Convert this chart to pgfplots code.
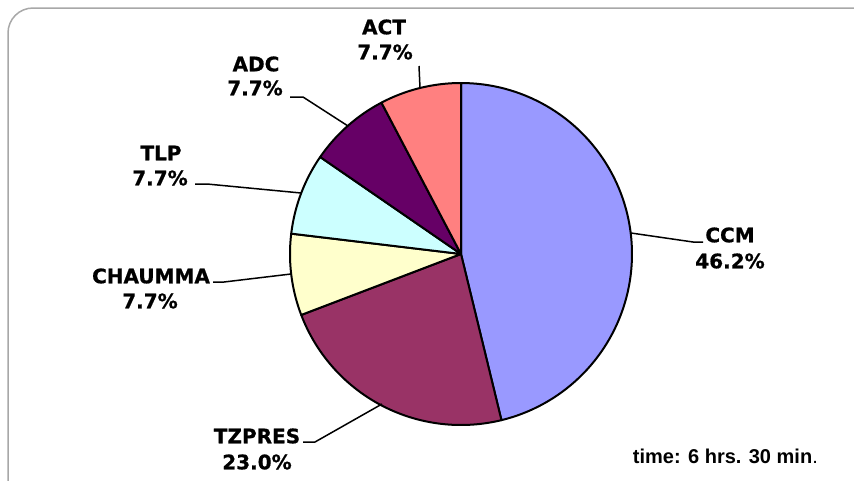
\documentclass[border=0pt]{standalone}
\usepackage{fontspec}
\setmainfont{DejaVu Sans}
\newfontfamily\labfont{DejaVu Sans Bold}[FakeBold=0.8]
\newfontfamily\timefont{Liberation Sans}
\usepackage{pgfplots}
\pgfplotsset{compat=1.18}

\definecolor{cCCM}{HTML}{9999FF}
\definecolor{cTZPRES}{HTML}{993366}
\definecolor{cCHAUMMA}{HTML}{FFFFCC}
\definecolor{cTLP}{HTML}{CCFFFF}
\definecolor{cADC}{HTML}{660066}
\definecolor{cACT}{HTML}{FF8080}
\definecolor{frame}{HTML}{A8A8A8}

% pie centre and radius, in picture pixels (y runs downwards)
\newcommand{\pcx}{461}
\newcommand{\pcy}{254}
\newcommand{\pr}{171}
% slice from cumulative percent #2 to #3
\newcommand{\slice}[3]{%
  \addplot[fill=#1, draw=black, line width=2pt, line join=round,
    domain={#2*3.6}:{#3*3.6}, samples=90, variable=\t]
    ({\pcx+\pr*sin(\t)},{\pcy-\pr*cos(\t)}) -- (axis cs:\pcx,\pcy) -- cycle;}
\newcommand{\lab}{\labfont\fontsize{20}{24}\selectfont}

\begin{document}
\begin{tikzpicture}
\begin{axis}[
    at={(0,0)}, anchor=south west,
    scale only axis, width=854pt, height=480pt,
    xmin=0, xmax=854, ymin=0, ymax=480, y dir=reverse,
    hide axis,
]
\draw[color=frame, line width=1.5pt, rounded corners=25pt]
    (axis cs:8,8) rectangle (axis cs:880,505);

\slice{cCCM}{0}{46.2}
\slice{cTZPRES}{46.2}{69.2}
\slice{cCHAUMMA}{69.2}{76.9}
\slice{cTLP}{76.9}{84.6}
\slice{cADC}{84.6}{92.3}
\slice{cACT}{92.3}{100}

% leader lines
\addplot[black, line width=1.5pt] coordinates {(420,88) (419,66)};
\addplot[black, line width=1.5pt] coordinates {(348,126) (303,97) (290,97)};
\addplot[black, line width=1.5pt] coordinates {(301,193) (207,184) (195,184)};
\addplot[black, line width=1.5pt] coordinates {(291,274) (224,282) (213,282)};
\addplot[black, line width=1.5pt] coordinates {(631,233) (693,242) (703,242)};
\addplot[black, line width=1.5pt] coordinates {(382,404) (315,442) (303,442)};

% labels
\node[font=\lab] at (axis cs:384,27) {ACT};
\node[font=\lab] at (axis cs:385,52) {7.7\%};
\node[font=\lab] at (axis cs:256,64) {ADC};
\node[font=\lab] at (axis cs:255,88) {7.7\%};
\node[font=\lab] at (axis cs:161,153) {TLP};
\node[font=\lab] at (axis cs:160,178) {7.7\%};
\node[font=\lab] at (axis cs:151,276) {CHAUMMA};
\node[font=\lab] at (axis cs:150,301) {7.7\%};
\node[font=\lab] at (axis cs:730,235) {CCM};
\node[font=\lab] at (axis cs:730,261) {46.2\%};
\node[font=\lab] at (axis cs:257,436) {TZPRES};
\node[font=\lab] at (axis cs:257,462) {23.0\%};
\node[anchor=base east, inner sep=0pt,
      font=\timefont\fontsize{20}{24}\selectfont]
    at (axis cs:818,463) {\bfseries time: 6 hrs. 30 min\mdseries.};
\end{axis}
\pgfresetboundingbox
\useasboundingbox (0,0) rectangle (854pt,480pt);
\end{tikzpicture}
\end{document}
